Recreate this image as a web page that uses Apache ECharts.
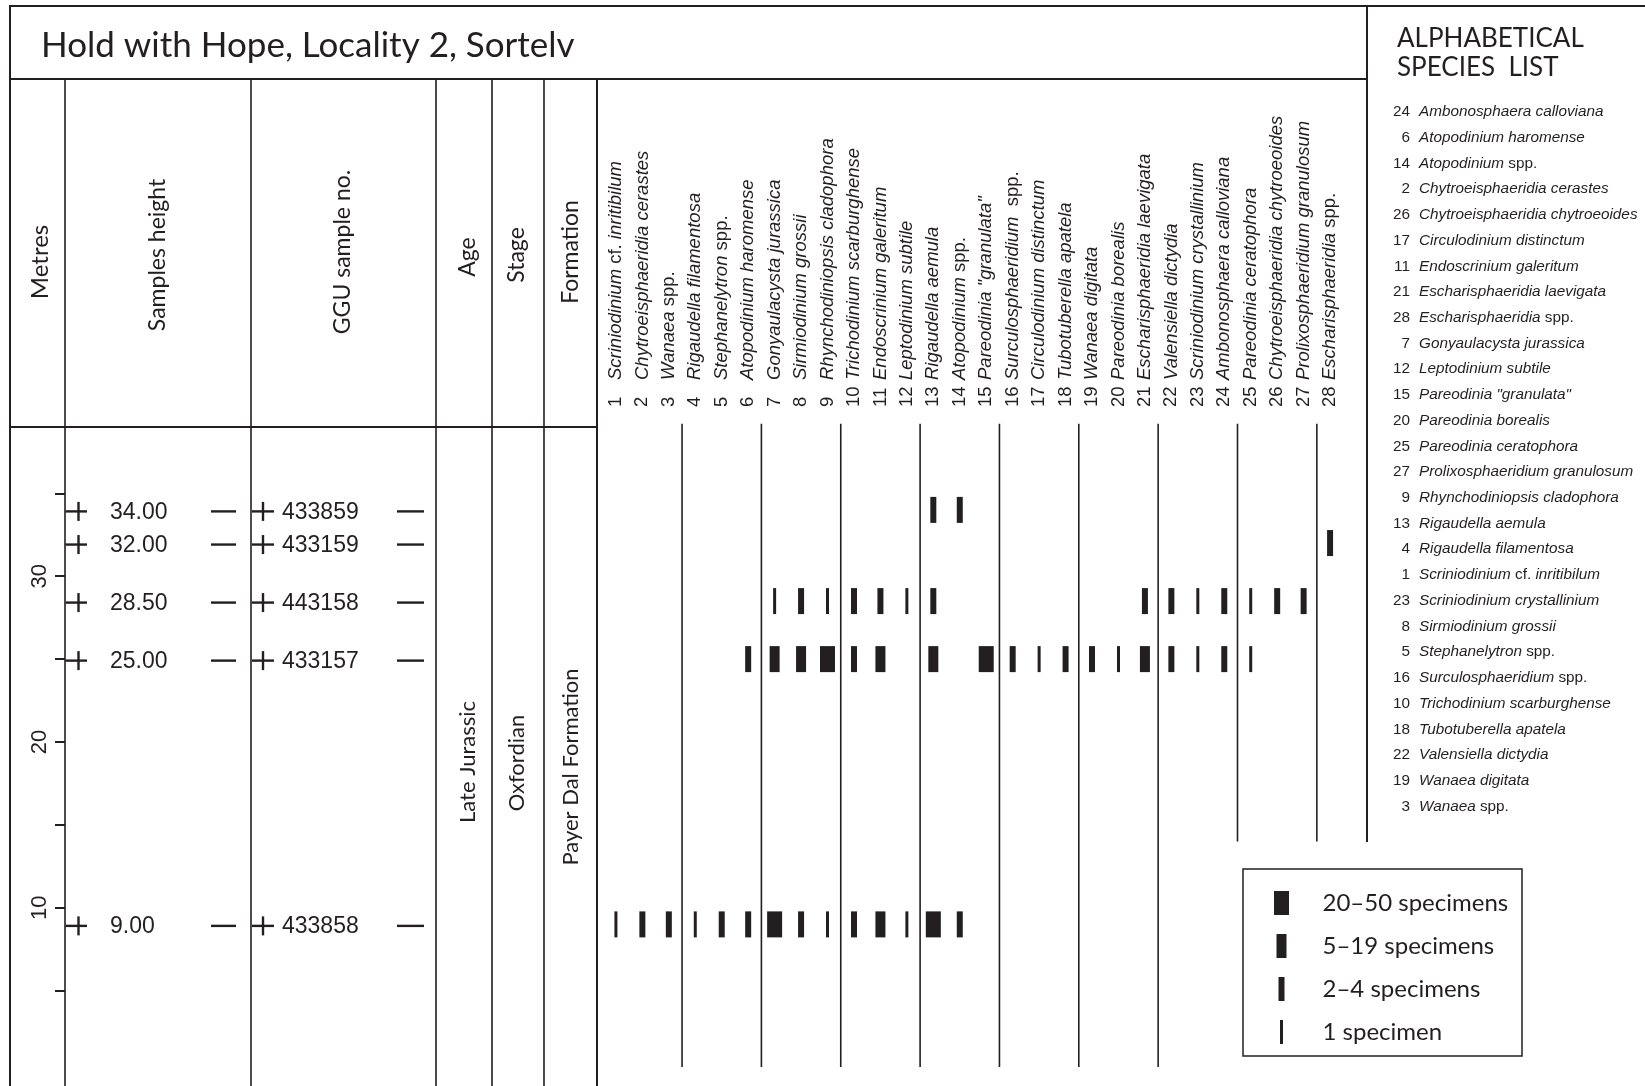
<!DOCTYPE html>
<html>
<head>
<meta charset="utf-8">
<script src="https://cdn.jsdelivr.net/npm/echarts@6/dist/echarts.min.js"></script>
<style>
html,body{margin:0;padding:0;background:#fff;}
#chart{width:1645px;height:1086px;}
</style>
</head>
<body>
<div id="chart"></div>
<script>
// ---------------- DATA ----------------
const title = 'Hold with Hope, Locality 2, Sortelv';
const species = [
  'Scriniodinium cf. inritibilum', 'Chytroeisphaeridia cerastes', 'Wanaea spp.',
  'Rigaudella filamentosa', 'Stephanelytron spp.', 'Atopodinium haromense',
  'Gonyaulacysta jurassica', 'Sirmiodinium grossii', 'Rhynchodiniopsis cladophora',
  'Trichodinium scarburghense', 'Endoscrinium galeritum', 'Leptodinium subtile',
  'Rigaudella aemula', 'Atopodinium spp.', 'Pareodinia "granulata"',
  'Surculosphaeridium  spp.', 'Circulodinium distinctum', 'Tubotuberella apatela',
  'Wanaea digitata', 'Pareodinia borealis', 'Escharisphaeridia laevigata',
  'Valensiella dictydia', 'Scriniodinium crystallinium', 'Ambonosphaera calloviana',
  'Pareodinia ceratophora', 'Chytroeisphaeridia chytroeoides', 'Prolixosphaeridium granulosum',
  'Escharisphaeridia spp.'
];
const sampleHeights = [34.00, 32.00, 28.50, 25.00, 9.00];
const sampleNumbers = ['433859', '433159', '443158', '433157', '433858'];
const abundanceClasses = ['20–50 specimens', '5–19 specimens', '2–4 specimens', '1 specimen'];
// abundance code per species (index = species no. - 1): 4 = 20–50, 3 = 5–19, 2 = 2–4, 1 = 1 specimen, 0 = absent
const counts_34_00 = [0,0,0,0,0,0,0,0,0,0,0,0,2,2,0,0,0,0,0,0,0,0,0,0,0,0,0,0];
const counts_32_00 = [0,0,0,0,0,0,0,0,0,0,0,0,0,0,0,0,0,0,0,0,0,0,0,0,0,0,0,2];
const counts_28_50 = [0,0,0,0,0,0,1,2,1,2,2,1,2,0,0,0,0,0,0,0,2,2,1,2,1,2,2,0];
const counts_25_00 = [0,0,0,0,0,2,3,3,4,2,3,0,3,0,4,2,1,2,2,1,3,2,1,2,1,0,0,0];
const counts_9_00  = [1,2,2,1,2,2,4,2,1,2,3,1,4,2,0,0,0,0,0,0,0,0,0,0,0,0,0,0];
const alphabeticalOrder = [24,6,14,2,26,17,11,21,28,7,12,15,20,25,27,9,13,4,1,23,8,5,16,10,18,22,19,3];
const metreTicks = [5, 10, 15, 20, 25, 30, 35];
const metreLabels = [10, 20, 30];
const guideAfterSpecies = [3, 6, 9, 12, 15, 18, 21, 24, 27];
const guideBaseMetres = [0.4, 0.4, 0.4, 0.4, 0.4, 0.4, 0.4, 14, 14];
const ageText = 'Late Jurassic';
const stageText = 'Oxfordian';
const formationText = 'Payer Dal Formation';

// ---------------- STYLE ----------------
const INK = '#231f20';
const GILL = 'Lato, "Open Sans", sans-serif';
const ARIAL = '"Liberation Sans", Arial, sans-serif';
const classWidth = { 4: 15, 3: 10, 2: 6, 1: 3 };
const Y_MIN = -0.76, Y_MAX = 39;
const GRID_TOP = 427, GRID_H = 659.2;

function richName(name, it, rg) {
  return name.split(/( +)/).map(t => {
    if (t === '') return '';
    if (/^ +$/.test(t) || t === 'cf.' || t === 'spp.') return '{' + rg + '|' + t + '}';
    return '{' + it + '|' + t + '}';
  }).join('');
}

const countsBySample = [counts_34_00, counts_32_00, counts_28_50, counts_25_00, counts_9_00];

const series = [];
abundanceClasses.forEach((name, k) => {
  const code = 4 - k;
  const data = [];
  countsBySample.forEach((arr, s) => arr.forEach((c, i) => { if (c === code) data.push([i, sampleHeights[s]]); }));
  series.push({
    type: 'scatter', name, xAxisIndex: 1, yAxisIndex: 1,
    symbol: 'rect', symbolSize: [classWidth[code], 26],
    itemStyle: { color: INK, opacity: 1 }, silent: true, z: 5, data
  });
});

// guide lines between species groups
series.push({
  type: 'custom', xAxisIndex: 1, yAxisIndex: 1, clip: false, silent: true, z: 3,
  data: guideAfterSpecies.map((a, i) => [a - 1, guideBaseMetres[i]]),
  renderItem: (params, api) => {
    const cat = api.value(0);
    const p1 = api.coord([cat, 39.2]);
    const p2 = api.coord([cat, api.value(1)]);
    const half = api.size([1, 0])[0] / 2;
    const x = p1[0] + half;
    return { type: 'line', shape: { x1: x, y1: p1[1], x2: x, y2: p2[1] }, style: { stroke: INK, lineWidth: 1.6 } };
  }
});

// sample markers (height + GGU number)
series.push({
  type: 'custom', xAxisIndex: 0, yAxisIndex: 0, clip: false, silent: true, z: 5,
  data: sampleHeights.map((h, i) => [0, h, i]),
  renderItem: (params, api) => {
    const y = api.coord([0, api.value(1)])[1] + 1.5;
    const x0 = params.coordSys.x;
    const idx = api.value(2);
    const L = (x1, y1, x2, y2) => ({ type: 'line', shape: { x1, y1, x2, y2 }, style: { stroke: INK, lineWidth: 2.4 } });
    const T = (x, text) => ({ type: 'text', style: { x, y: y + 1, text, fill: INK, fontSize: 23, fontFamily: ARIAL, align: 'left', verticalAlign: 'middle' } });
    return { type: 'group', children: [
      L(x0 + 0.5, y, x0 + 22, y), L(x0 + 13.5, y - 9.5, x0 + 13.5, y + 9.5),
      T(x0 + 45, sampleHeights[idx].toFixed(2)),
      L(x0 + 146, y, x0 + 171, y),
      L(x0 + 187, y, x0 + 209, y), L(x0 + 198, y - 9.5, x0 + 198, y + 9.5),
      T(x0 + 217, sampleNumbers[idx]),
      L(x0 + 332, y, x0 + 359, y)
    ]};
  }
});

// ---------------- GRAPHIC (frame & texts) ----------------
const g = [];
const line = (x1, y1, x2, y2, w) => g.push({ type: 'line', silent: true, shape: { x1, y1, x2, y2 }, style: { stroke: INK, lineWidth: w || 1.6 } });
line(9, 6, 1645, 6, 2);
line(10, 5, 10, 1086, 2);
line(10, 79, 1367, 79, 2);
line(1367, 5, 1367, 842, 2);
line(10, 427, 597, 427, 2);
[65, 251, 436, 492, 544].forEach(x => line(x, 79, x, 1086, 1.6));
line(597, 79, 597, 1086, 2);

g.push({ type: 'text', x: 41, y: 46, silent: true, style: { text: title, fill: INK, fontSize: 35, fontFamily: GILL, align: 'left', verticalAlign: 'middle' } });
const vtext = (x, y, text, size) => g.push({ type: 'text', x, y, rotation: Math.PI / 2, silent: true,
  style: { text, fill: INK, fontSize: size || 23, fontFamily: GILL, align: 'center', verticalAlign: 'middle' } });
vtext(40, 262, 'Metres', 24);
vtext(158, 255, 'Samples height');
vtext(343, 252, 'GGU sample no.');
vtext(468, 257, 'Age');
vtext(517, 255, 'Stage');
vtext(571, 252, 'Formation');
vtext(468, 762, ageText, 22);
vtext(517, 763, stageText, 22);
vtext(571, 767, formationText, 22);

g.push({ type: 'text', x: 1397, y: 39, silent: true, style: { text: 'ALPHABETICAL', fill: INK, fontSize: 26, fontFamily: GILL, align: 'left', verticalAlign: 'middle' } });
g.push({ type: 'text', x: 1397, y: 68, silent: true, style: { text: 'SPECIES  LIST', fill: INK, fontSize: 26, fontFamily: GILL, align: 'left', verticalAlign: 'middle' } });
alphabeticalOrder.forEach((no, k) => {
  const y = 112 + k * 25.72;
  g.push({ type: 'text', x: 1410, y, silent: true, style: { text: String(no), fill: INK, fontSize: 15.3, fontFamily: ARIAL, align: 'right', verticalAlign: 'middle' } });
  g.push({ type: 'text', x: 1419, y, silent: true, style: {
    text: richName(species[no - 1].replace(/ +/g, ' '), 'i', 'r'), fill: INK, align: 'left', verticalAlign: 'middle',
    rich: {
      i: { fontSize: 15.3, fontFamily: ARIAL, fontStyle: 'italic', fill: INK },
      r: { fontSize: 15.3, fontFamily: ARIAL, fontStyle: 'normal', fill: INK }
    } } });
});
g.push({ type: 'rect', silent: true, shape: { x: 1243, y: 869, width: 279, height: 187 }, style: { fill: 'none', stroke: INK, lineWidth: 1.5 } });

// ---------------- OPTION ----------------
const chart = echarts.init(document.getElementById('chart'), null, { renderer: 'canvas' });
const option = {
  animation: false,
  backgroundColor: '#fff',
  grid: [
    { left: 65, top: GRID_TOP, width: 532, height: GRID_H, containLabel: false, outerBoundsMode: 'none' },
    { left: 602.7, top: GRID_TOP, width: 740.6, height: GRID_H, containLabel: false, outerBoundsMode: 'none' }
  ],
  xAxis: [
    { gridIndex: 0, type: 'value', min: 0, max: 1, show: false },
    { gridIndex: 1, type: 'category', position: 'top', data: species.map((s, i) => String(i + 1)),
      boundaryGap: true, axisLine: { show: false }, axisTick: { show: false }, splitLine: { show: false },
      axisLabel: {
        interval: 0, rotate: 90, margin: 20, color: INK,
        formatter: (v, idx) => '{n|' + (idx + 1) + '}' + richName(species[idx], 'i', 'r'),
        rich: {
          n: { fontSize: 18.5, fontFamily: ARIAL, fontStyle: 'normal', color: INK, width: 27, align: 'left' },
          i: { fontSize: 18.5, fontFamily: ARIAL, fontStyle: 'italic', color: INK },
          r: { fontSize: 18.5, fontFamily: ARIAL, fontStyle: 'normal', color: INK }
        }
      } }
  ],
  yAxis: [
    { gridIndex: 0, type: 'value', min: Y_MIN, max: Y_MAX, position: 'left',
      axisLine: { show: false }, splitLine: { show: false },
      axisTick: { show: true, length: 10, customValues: metreTicks, lineStyle: { color: INK, width: 2 } },
      axisLabel: { show: true, customValues: metreLabels, rotate: 90, margin: 14, color: INK, fontSize: 22, fontFamily: ARIAL } },
    { gridIndex: 1, type: 'value', min: Y_MIN, max: Y_MAX, show: false }
  ],
  legend: {
    orient: 'vertical', left: 1274, top: 891, itemWidth: 72, itemHeight: 24, itemGap: 19, padding: 0,
    selectedMode: false, borderWidth: 0,
    data: abundanceClasses.map((n, k) => { const w = classWidth[4 - k]; return { name: n, icon: 'path://M0,0h' + w + 'v24h-' + w + 'z' }; }),
    textStyle: { color: INK, fontSize: 24, fontFamily: GILL, lineHeight: 24 }
  },
  graphic: g,
  series
};
chart.setOption(option);
</script>
</body>
</html>
